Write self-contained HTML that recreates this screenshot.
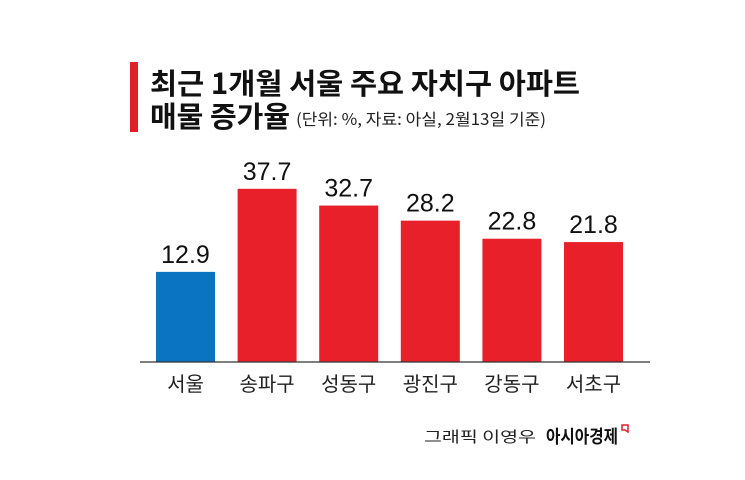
<!DOCTYPE html>
<html><head><meta charset="utf-8"><style>
html,body{margin:0;padding:0;background:#fff;}
svg{display:block;font-family:"Liberation Sans","Noto Sans CJK KR",sans-serif;}
</style></head><body>
<svg id="chart" width="745" height="480" viewBox="0 0 745 480">
<rect x="0" y="0" width="745" height="480" fill="#fff"/>
<rect x="130" y="62" width="8" height="70" fill="#e31e24"/>
<text x="150" y="94" font-size="29" font-weight="bold" fill="#111" textLength="430" lengthAdjust="spacingAndGlyphs" font-family="Noto Sans CJK KR, sans-serif">최근 1개월 서울 주요 자치구 아파트</text>
<text x="150" y="127" font-size="29" font-weight="bold" fill="#111" textLength="140" lengthAdjust="spacingAndGlyphs" font-family="Noto Sans CJK KR, sans-serif">매물 증가율</text>
<text x="296" y="125" font-size="16" fill="#222" textLength="250" lengthAdjust="spacingAndGlyphs" font-family="Noto Sans CJK KR, sans-serif">(단위: %, 자료: 아실, 2월13일 기준)</text>
<g id="bars"></g>
<line x1="140" y1="362" x2="650" y2="362" stroke="#333" stroke-width="1.2"/>
<text x="424" y="442" font-size="15" fill="#222" textLength="112" lengthAdjust="spacingAndGlyphs" font-family="Noto Sans CJK KR, sans-serif">그래픽 이영우</text>
<text x="546" y="443" font-size="18" font-weight="bold" fill="#111" textLength="72" lengthAdjust="spacingAndGlyphs" font-family="Noto Sans CJK KR, sans-serif">아시아경제</text>
<path d="M622 425 h6 v7 l-3 -2 h-3 z" fill="none" stroke="#e31e24" stroke-width="1.5"/>
</svg>
<script>
const categories = ["서울","송파구","성동구","광진구","강동구","서초구"];
const values = [12.9,37.7,32.7,28.2,22.8,21.8];
const valueLabels = ["12.9","37.7","32.7","28.2","22.8","21.8"];
const barColors = ["#0a73c2","#e8202a","#e8202a","#e8202a","#e8202a","#e8202a"];
const base = 362, dMin = -14, pxPer = 3.35;
function y(v){ return base - (v - dMin) * pxPer; }
function x(i){ return 156 + i * 81.6; }
const bw = 59;
const g = document.getElementById('bars');
const ns = 'http://www.w3.org/2000/svg';
categories.forEach((c,i)=>{
  const r = document.createElementNS(ns,'rect');
  r.setAttribute('x', x(i)); r.setAttribute('y', y(values[i]));
  r.setAttribute('width', bw); r.setAttribute('height', base - y(values[i]));
  r.setAttribute('fill', barColors[i]);
  
  
  g.appendChild(r);
  const t = document.createElementNS(ns,'text');
  t.setAttribute('x', x(i)+bw/2); t.setAttribute('y', y(values[i]) - 9);
  t.setAttribute('text-anchor','middle'); t.setAttribute('font-size','25');
  t.setAttribute('fill','#111');
  t.textContent = valueLabels[i];
  
  
  g.appendChild(t);
  const l = document.createElementNS(ns,'text');
  l.setAttribute('x', x(i)+bw/2); l.setAttribute('y', 391);
  l.setAttribute('text-anchor','middle'); l.setAttribute('font-size','20');
  l.setAttribute('fill','#222');
  l.setAttribute('font-family','Noto Sans CJK KR, sans-serif');
  l.textContent = c;
  
  
  g.appendChild(l);
});
</script>
</body></html>
